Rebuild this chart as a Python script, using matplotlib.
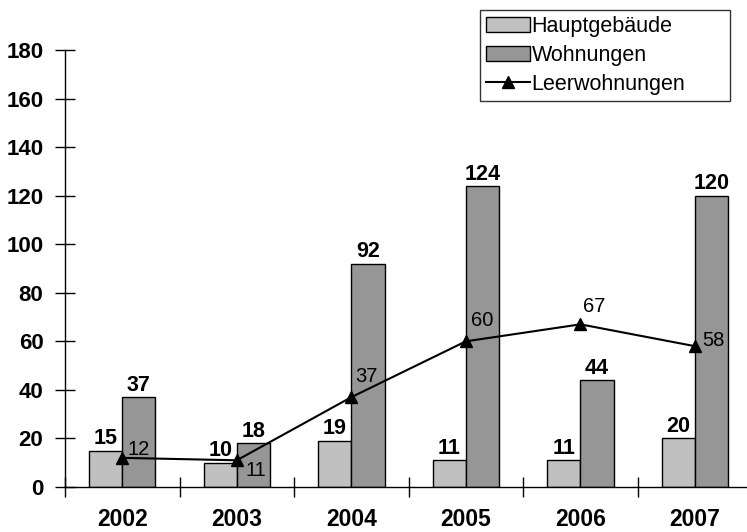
import numpy as np
import matplotlib.pyplot as plt

plt.rcParams['font.family'] = ['Liberation Sans', 'DejaVu Sans']

# data
years = ["2002", "2003", "2004", "2005", "2006", "2007"]
hauptgebaeude = [15, 10, 19, 11, 11, 20]
wohnungen = [37, 18, 92, 124, 44, 120]
leerwohnungen = [12, 11, 37, 60, 67, 58]

# label offsets (in points) for the line values
line_offsets = [(4, 6), (6, -7), (3, 15), (4, 15), (2, 13), (5, 4)]

fig = plt.figure(figsize=(7.47, 5.32), dpi=100)
ax = fig.add_axes([0.087, 0.0846, 0.92, 0.8214])

x = np.arange(len(years))
w = 0.29
b1 = ax.bar(x - w / 2, hauptgebaeude, w, color="#c0c0c0", edgecolor="black",
            linewidth=1, label="Hauptgebäude", zorder=2)
b2 = ax.bar(x + w / 2, wohnungen, w, color="#969696", edgecolor="black",
            linewidth=1, label="Wohnungen", zorder=2)
line, = ax.plot(x, leerwohnungen, color="black", marker="^", markersize=8,
                linewidth=1.5, label="Leerwohnungen", zorder=3)

# bold value labels over the bars
for bars, vals in [(b1, hauptgebaeude), (b2, wohnungen)]:
    for rect, v in zip(bars, vals):
        ax.annotate(str(v), (rect.get_x() + rect.get_width() / 2, v),
                    xytext=(0, 1), textcoords="offset points",
                    ha="center", va="bottom", fontsize=15.5, fontweight="bold")

for xi, v, off in zip(x, leerwohnungen, line_offsets):
    ax.annotate(str(v), (xi, v), xytext=off, textcoords="offset points",
                ha="left", va="center", fontsize=14.5, zorder=4)

ax.set_xlim(-0.5, len(years) - 0.5)
ax.set_ylim(0, 180)
ax.set_yticks(range(0, 181, 20))
ax.set_xticks(x)
ax.set_xticklabels(years, fontsize=16.5, fontweight="bold")
ax.set_xticks(np.arange(-0.5, len(years), 1), minor=True)
ax.tick_params(axis="x", which="major", length=0, pad=15)
ax.tick_params(axis="x", which="minor", direction="inout", length=15, width=1)
ax.tick_params(axis="y", direction="inout", length=15, width=1, pad=8)
for lbl in ax.get_yticklabels():
    lbl.set_fontsize(16)
    lbl.set_fontweight("bold")

for side in ["top", "right"]:
    ax.spines[side].set_visible(False)
ax.spines["left"].set_linewidth(1)
ax.spines["bottom"].set_linewidth(1)

leg = fig.legend([b1, b2, line], ["Hauptgebäude", "Wohnungen", "Leerwohnungen"],
                 loc="upper left", bbox_to_anchor=(0.6426, 0.8177, 0.3347, 0.1635),
                 mode="expand", fontsize=15.5, frameon=True, fancybox=False,
                 edgecolor="black", handlelength=2.0, handletextpad=0.1,
                 borderpad=0.3, labelspacing=0.35, borderaxespad=0)
leg.get_frame().set_linewidth(1)

plt.savefig("out.png", dpi=100)
